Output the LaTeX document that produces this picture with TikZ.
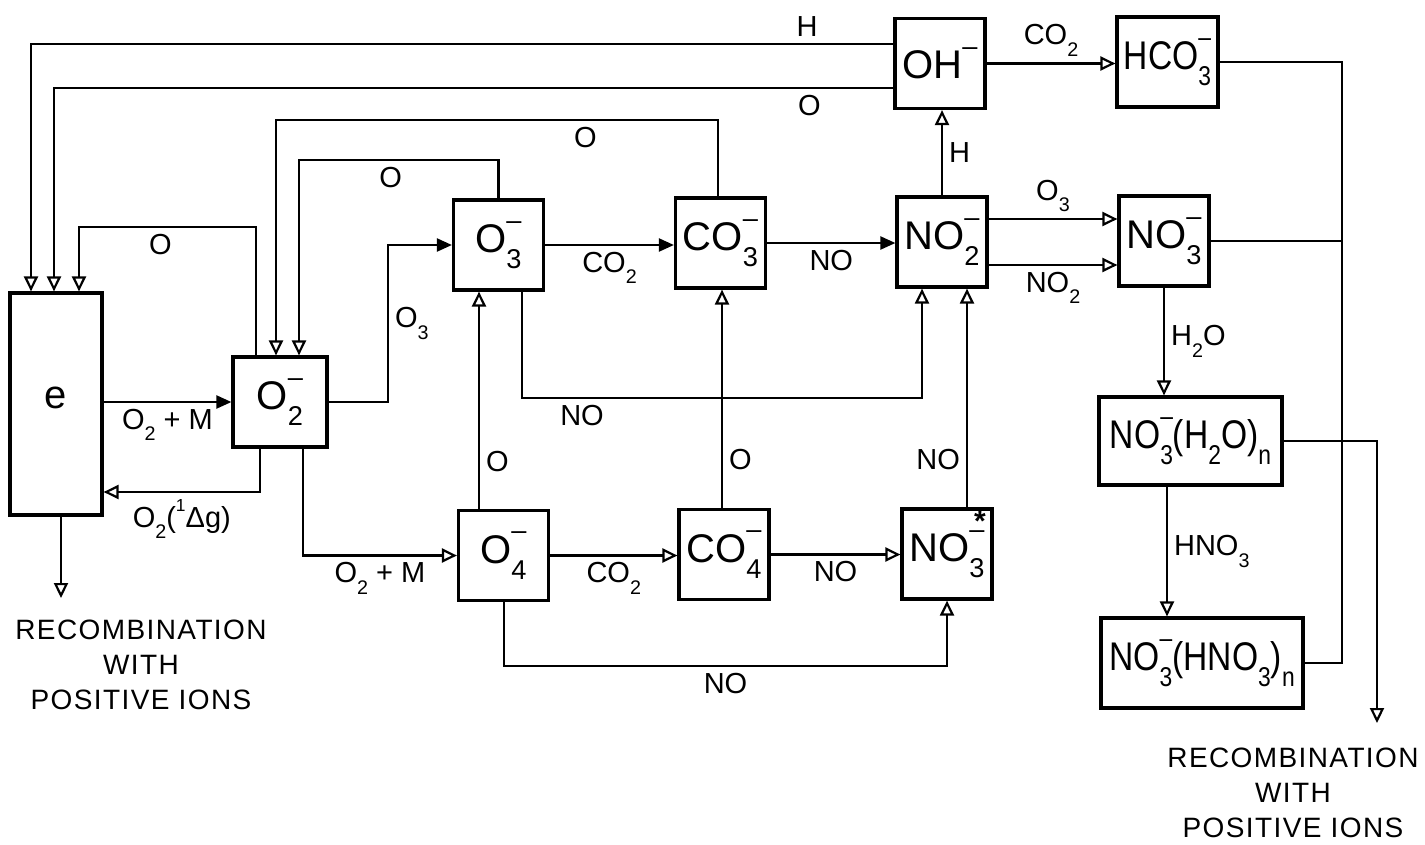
\documentclass[tikz,border=0pt]{standalone}
\usepackage{fontspec}
\setmainfont{Liberation Sans}
\usepackage{tikz}
\usetikzlibrary{arrows.meta,positioning,calc}

\newcommand{\boxfont}{\fontsize{40}{44}\selectfont}
\newcommand{\lblfont}{\fontsize{29}{32}\selectfont}
\newcommand{\recfont}{\fontsize{28}{35}\selectfont\addfontfeature{LetterSpace=5}}
% subscript, charge, ion symbol and narrow box text
\newcommand{\sbs}[1]{\raisebox{-0.4em}{\scalebox{0.68}{#1}}}
\newcommand{\chg}{\raisebox{0.58em}{\scalebox{0.68}{--}}}
\newcommand{\ionsym}[2]{#1\rlap{\chg}\sbs{#2}}
\newcommand{\narrow}[1]{\scalebox{0.84}[1]{#1}}

\begin{document}
\begin{tikzpicture}[
    x=1pt, y=-1pt,
    ionbox/.style={rectangle, draw=black, line width=3.2pt, minimum width=90pt, minimum height=90pt, inner sep=0pt, font=\boxfont},
    lbl/.style={inner sep=6pt, font=\lblfont},
    rectxt/.style={align=center, font=\recfont},
    link/.style={line width=2.2pt},
    arr/.style={link, -{Triangle[open, length=15pt, width=14pt]}},
    arrf/.style={link, -{Triangle[length=15pt, width=13pt]}}
]
    \useasboundingbox (0,0) rectangle (1425,844);

    % ions
    \node[ionbox, minimum width=92pt, minimum height=222pt] (e) at (56,404) {\raisebox{0.3em}{e}};
    \node[ionbox, minimum width=94pt] (O2m) at (280,402) {\ionsym{O}{2}};
    \node[ionbox] (O3m) at (498.5,245) {\ionsym{O}{3}};
    \node[ionbox] (CO3m) at (720.5,243) {\ionsym{CO}{3}};
    \node[ionbox] (NO2m) at (942,242) {\ionsym{NO}{2}};
    \node[ionbox] (OHm) at (940,63.5) {OH\chg};
    \node[ionbox, minimum width=101pt] (HCO3m) at (1167.5,62) {\narrow{\ionsym{HCO}{3}}};
    \node[ionbox] (NO3m) at (1164,241) {\ionsym{NO}{3}};
    \node[ionbox, minimum width=183pt, minimum height=88pt] (NO3w) at (1190.5,441) {\narrow{\ionsym{NO}{3}(H\sbs{2}O)\sbs{n}}};
    \node[ionbox, minimum width=202pt] (NO3a) at (1202,663) {\narrow{\ionsym{NO}{3}(HNO\sbs{3})\sbs{n}}};
    \node[ionbox] (O4m) at (503.5,555.5) {\ionsym{O}{4}};
    \node[ionbox] (CO4m) at (724,554.5) {\ionsym{CO}{4}};
    \node[ionbox] (NO3s) at (947,554) {\raisebox{-0.18em}{\ionsym{NO}{3}}};
    \node[anchor=north, inner sep=0pt, font=\fontsize{30}{30}\selectfont\bfseries] (NO3star) at (980,511) {*};

    % recombination
    \coordinate (recL) at (61,598);
    \coordinate (recR) at (1377,723);
    \node[rectxt] (recLtxt) at (141,665) {RECOMBINATION\\WITH\\POSITIVE\ IONS};
    \node[rectxt] (recRtxt) at (1293,793) {RECOMBINATION\\WITH\\POSITIVE\ IONS};

    % electron and O2-
    \draw[arrf] (e.east |- O2m) -- node[lbl, below] (l1) {O\sbs{2} + M} (O2m);
    \draw[arr] (O2m.south -| 260,0) |- node[lbl, pos=0.75, below] (l2) {O\sbs{2}(\raisebox{0.55em}{\scalebox{0.6}{1}}Δg)} (e.east |- 0,492);
    \draw[arr] (e.south -| 61,0) -- (recL);
    \draw[arrf] (O2m.east) -| node[lbl, pos=0.75, right] (l3) {O\sbs{3}} (O3m.west -| 388,0) -- (O3m.west);
    \draw[arr] (O2m.south -| 303,0) |- node[lbl, pos=0.75, below] (l4) {O\sbs{2} + M} (O4m.west);

    % back to e and O2-
    \draw[arr] (O2m.north -| 256,0) |- node[lbl, pos=0.77, below] (l5) {O} (79,227) -- (e.north -| 79,0);
    \draw[arr] (O3m.north) |- node[lbl, pos=0.77, below] (l6) {O} (299,160) -- (O2m.north -| 299,0);
    \draw[arr] (CO3m.north -| 718,0) |- node[lbl, pos=0.65, below] (l7) {O} (276,120) -- (O2m.north -| 276,0);
    \draw[arr] (OHm.west |- 0,44) -| node[lbl, pos=0.05, above] (l8) {H} (e.north -| 31,0);
    \draw[arr] (OHm.west |- 0,88) -| node[lbl, pos=0.05, below] (l9) {O} (e.north -| 54,0);

    % upper row
    \draw[arrf] (O3m.east) -- node[lbl, below] (l10) {CO\sbs{2}} (O3m.east -| CO3m.west);
    \draw[arrf] (CO3m.east) -- node[lbl, below] (l11) {NO} (CO3m.east -| NO2m.west);
    \draw[arr] (NO2m.north) -- node[lbl, right] (l12) {H} (NO2m.north |- OHm.south);
    \draw[arr] (OHm.east) -- node[lbl, above] (l13) {CO\sbs{2}} (OHm.east -| HCO3m.west);
    \draw[arr] (NO2m.east |- 0,219) -- node[lbl, above] (l14) {O\sbs{3}} (NO3m.west |- 0,219);
    \draw[arr] (NO2m.east |- 0,265) -- node[lbl, below] (l15) {NO\sbs{2}} (NO3m.west |- 0,265);
    \draw[arr] (NO3m.south) -- node[lbl, right] (l16) {H\sbs{2}O} (NO3m.south |- NO3w.north);
    \draw[arr] (NO3w.south -| 1167,0) -- node[lbl, right] (l17) {HNO\sbs{3}} (NO3a.north -| 1167,0);

    % right-hand collector
    \draw[link] (HCO3m.east) -| (NO3a.east -| 1342,0) -- (NO3a.east);
    \draw[link] (NO3m.east) -- (NO3m.east -| 1342,0);
    \draw[arr] (NO3w.east) -| (recR);

    % lower row
    \draw[arr] (O4m.north -| 479,0) -- node[lbl, right, pos=0.22] (l18) {O} (O3m.south -| 479,0);
    \draw[arr] (CO4m.north -| 722,0) -- node[lbl, right, pos=0.22] (l19) {O} (CO3m.south -| 722,0);
    \draw[arr] (NO3s.north -| 967,0) -- node[lbl, left, pos=0.22] (l20) {NO} (NO2m.south -| 967,0);
    \draw[arr] (O3m.south -| 522,0) |- node[lbl, pos=0.575, below] (l21) {NO} (922,398) -- (NO2m.south -| 922,0);
    \draw[arr] (O4m.east) -- node[lbl, below] (l22) {CO\sbs{2}} (O4m.east -| CO4m.west);
    \draw[arr] (CO4m.east) -- node[lbl, below] (l23) {NO} (CO4m.east -| NO3s.west);
    \draw[arr] (O4m.south -| 504,0) |- node[lbl, pos=0.75, below] (l24) {NO} (947,666) -- (NO3s.south);
\end{tikzpicture}
\end{document}
